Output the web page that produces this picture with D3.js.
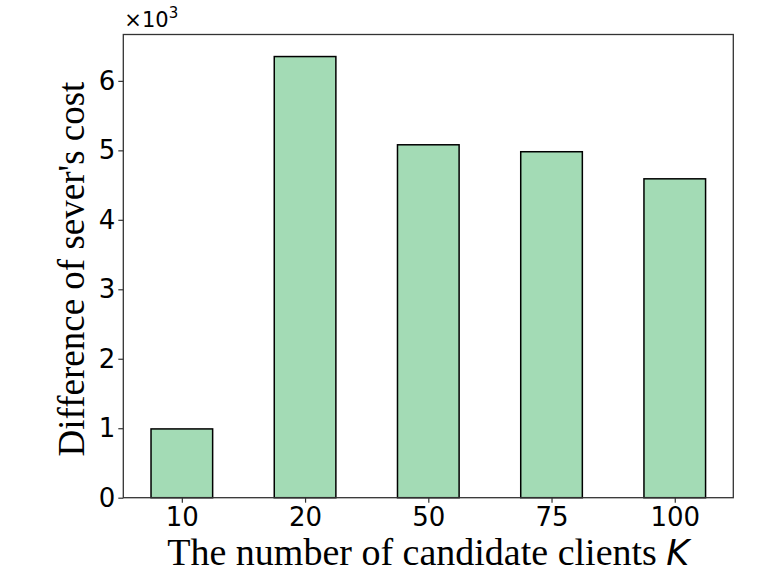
<!DOCTYPE html>
<html>
<head>
<meta charset="utf-8">
<script src="https://cdn.jsdelivr.net/npm/d3@7"></script>
<style>
  body { margin: 0; background: #fff; }
</style>
</head>
<body>
<div id="chart"></div>
<script>
// candidate clients K and the server cost difference (x10^3)
const categories = ["10", "20", "50", "75", "100"];
const costDiff = [0.99, 6.35, 5.08, 4.98, 4.59];
const yTicks = [0, 1, 2, 3, 4, 5, 6];

const width = 772;
const height = 579;
const margin = { top: 34.5, right: 38.7, bottom: 81.3, left: 123.3 };

const svg = d3.select('#chart')
  .append('svg')
  .attr('width', width)
  .attr('height', height);

// matplotlib-like x limits: bars at 0..4, width 0.5, 5% margin
const xScale = d3.scaleLinear()
  .domain([-0.475, 4.475])
  .range([margin.left, width - margin.right]);

const yScale = d3.scaleLinear()
  .domain([0, d3.max(costDiff) * 1.05])
  .range([height - margin.bottom, margin.top]);

const barW = 0.5;

svg.append('g')
  .selectAll('rect')
  .data(costDiff)
  .join('rect')
  .attr('x', (d, i) => xScale(i - barW / 2))
  .attr('width', xScale(barW) - xScale(0))
  .attr('y', d => yScale(d))
  .attr('height', d => yScale(0) - yScale(d))
  .attr('fill', '#a3dbb5')
  .attr('stroke', '#000')
  .attr('stroke-width', 1.5);

// frame
svg.append('rect')
  .attr('x', margin.left)
  .attr('y', margin.top)
  .attr('width', width - margin.left - margin.right)
  .attr('height', height - margin.top - margin.bottom)
  .attr('fill', 'none')
  .attr('stroke', '#333')
  .attr('stroke-width', 1.3);

const xAxis = d3.axisBottom(xScale)
  .tickValues(d3.range(categories.length))
  .tickFormat(i => categories[i])
  .tickSize(5)
  .tickPadding(5);

const gx = svg.append('g')
  .attr('transform', `translate(0, ${height - margin.bottom})`)
  .call(xAxis);

const yAxis = d3.axisLeft(yScale)
  .tickValues(yTicks)
  .tickFormat(d3.format('d'))
  .tickSize(5)
  .tickPadding(3);

const gy = svg.append('g')
  .attr('transform', `translate(${margin.left}, 0)`)
  .call(yAxis);

[gx, gy].forEach(g => {
  g.select('.domain').remove();
  g.selectAll('.tick line').attr('stroke', '#333').attr('stroke-width', 1.2);
  g.selectAll('.tick text')
    .attr('fill', '#000')
    .style('font-family', 'DejaVu Sans')
    .style('font-size', '26px');
});

// offset text x10^3
const off = svg.append('text')
  .attr('x', margin.left + 1)
  .attr('y', 27)
  .style('font-family', 'DejaVu Sans')
  .style('font-size', '21px')
  .attr('fill', '#000');
off.append('tspan').text('\u00d710');
off.append('tspan').attr('dy', -9).style('font-size', '15px').text('3');

// x label
const xl = svg.append('text')
  .attr('x', (margin.left + width - margin.right) / 2)
  .attr('y', 565)
  .attr('text-anchor', 'middle')
  .style('font-family', 'Liberation Serif')
  .style('font-size', '38px')
  .attr('fill', '#000');
xl.append('tspan').text('The number of candidate clients ');
xl.append('tspan')
  .style('font-family', 'DejaVu Sans')
  .style('font-style', 'italic')
  .style('font-size', '35px')
  .text('K');

// y label
svg.append('text')
  .attr('transform', `translate(84, 269) rotate(-90)`)
  .attr('text-anchor', 'middle')
  .style('font-family', 'Liberation Serif')
  .style('font-size', '37px')
  .attr('fill', '#000')
  .text("Difference of sever's cost");
</script>
</body>
</html>
